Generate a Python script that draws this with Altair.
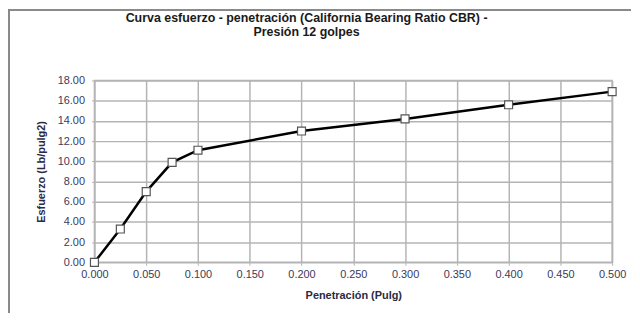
import altair as alt
import pandas as pd

penetracion = [0.000, 0.025, 0.050, 0.075, 0.100, 0.200, 0.300, 0.400, 0.500]
esfuerzo = [0.00, 3.30, 7.00, 9.90, 11.10, 13.00, 14.20, 15.60, 16.90]
x_ticks = [0.0, 0.05, 0.1, 0.15, 0.2, 0.25, 0.3, 0.35, 0.4, 0.45, 0.5]
y_ticks = [0, 2, 4, 6, 8, 10, 12, 14, 16, 18]

df = pd.DataFrame({"Penetracion": penetracion, "Esfuerzo": esfuerzo})

FONT = "Liberation Sans"
LABEL_COLOR = "#3a3a5c"
TITLE_COLOR = "#2a2a44"
GRID = "#b4b4b4"

x_enc = alt.X(
    "Penetracion:Q",
    scale=alt.Scale(domain=[0, 0.5], nice=False, zero=False),
    axis=alt.Axis(
        values=x_ticks, format=".3f", title="Penetración (Pulg)",
        titlePadding=10, labelFlush=False, labelOverlap=False, labelPadding=3,
    ),
)
y_enc = alt.Y(
    "Esfuerzo:Q",
    scale=alt.Scale(domain=[0, 18], nice=False),
    axis=alt.Axis(
        values=y_ticks, format=".2f", title="Esfuerzo (Lb/pulg2)",
        titlePadding=11, labelFlush=False, labelOverlap=False, labelPadding=7,
    ),
)

line = alt.Chart(df).mark_line(color="black", strokeWidth=2.5).encode(x=x_enc, y=y_enc)
pts = alt.Chart(df).mark_point(
    shape="square", filled=True, fill="white", stroke="#555555",
    strokeWidth=1.2, size=64, opacity=1,
).encode(x=x_enc, y=y_enc)

frame_left = alt.Chart(df).mark_rule(color="#8a8a8a", strokeWidth=2).encode(
    x=alt.value(-86), y=alt.value(-72), y2=alt.value(260)
)
frame_top = alt.Chart(df).mark_rule(color="#8a8a8a", strokeWidth=2).encode(
    x=alt.value(-86), x2=alt.value(540), y=alt.value(-71)
)

chart = alt.layer(frame_left, frame_top, line, pts).properties(
    width=521,
    height=183,
    background="white",
    autosize=alt.AutoSizeParams(type="none"),
    padding={"left": 87, "top": 72, "right": 20, "bottom": 50},
    title=alt.TitleParams(
        text=["Curva esfuerzo - penetración (California Bearing Ratio CBR) -", "Presión 12 golpes"],
        font=FONT, fontSize=12.5, fontWeight="bold", color="#1a1a1a",
        anchor="middle", dx=-47, offset=-31, lineHeight=14,
    ),
).configure_view(stroke=GRID, strokeWidth=1.5).configure_axis(
    labelFont=FONT, labelFontSize=11, labelColor=LABEL_COLOR,
    titleFont=FONT, titleFontSize=11, titleFontWeight="bold", titleColor=TITLE_COLOR,
    grid=True, gridColor=GRID, gridWidth=1.5, domain=False,
    tickColor=GRID, tickSize=3,
)

chart.save("out.html", embed_options={"renderer": "svg", "actions": False})
